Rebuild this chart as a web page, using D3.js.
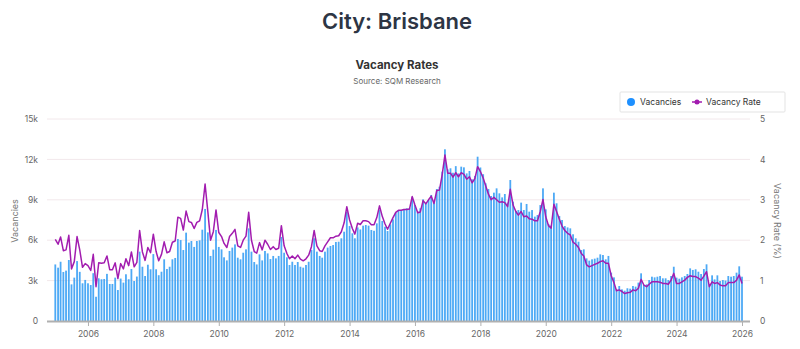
<!DOCTYPE html>
<html>
<head>
<meta charset="utf-8">
<script src="https://cdn.jsdelivr.net/npm/d3@7"></script>
<style>
  html, body { margin: 0; padding: 0; background: #ffffff; }
  svg { display: block; font-family: "Inter", "Open Sans", sans-serif; }
</style>
</head>
<body>
<svg id="chart" width="800" height="349"></svg>
<script>
// Monthly series, Jan 2005 through Jan 2026
const startMonth = new Date(2005, 0, 1);

// Number of vacant rental listings, thousands
const vacanciesK = [
  4.2, 3.96, 4.4, 3.64, 3.74, 4.53, 2.72, 3.22, 4.45, 3.65, 2.8, 3.05,
  2.8, 2.67, 3.55, 1.8, 3.17, 3.1, 3.12, 3.5, 2.75, 2.75, 3.22, 2.3,
  3.15, 2.85, 3.47, 3.1, 3.86, 2.97, 3.3, 5.15, 4.03, 3.34, 4.18, 3.84,
  4.97, 3.84, 3.4, 3.66, 4.58, 3.86, 4.03, 4.58, 4.68, 6.09, 6.01, 5.27,
  6.56, 5.82, 5.94, 5.5, 5.94, 5.99, 6.78, 8.32, 6.58, 4.83, 5.3, 6.76,
  5.5, 5.32, 4.73, 4.5, 5.2, 5.45, 5.69, 4.7, 4.58, 5.07, 5.32, 6.88,
  5.15, 4.38, 4.2, 4.95, 4.5, 5.2, 5.02, 4.6, 4.83, 4.65, 4.83, 6.24,
  5.07, 4.73, 4.16, 4.4, 4.16, 4.38, 4.03, 3.96, 4.16, 4.4, 5.27, 6.14,
  5.15, 4.83, 4.7, 5.15, 5.45, 5.57, 5.64, 5.87, 5.89, 6.14, 6.63, 8.12,
  7.05, 6.51, 6.14, 6.95, 6.8, 7.08, 7.13, 7.08, 6.76, 6.7, 7.25, 8.24,
  7.43, 7.0, 6.68, 7.18, 7.55, 8.04, 8.19, 8.22, 8.32, 8.37, 8.37, 9.18,
  8.61, 8.12, 8.37, 9.03, 8.74, 8.98, 9.36, 8.79, 9.8, 9.97, 11.09, 12.75,
  11.26, 11.34, 11.01, 11.5, 10.96, 11.46, 11.41, 10.96, 11.14, 10.52, 10.77, 12.2,
  11.4, 10.9, 10.22, 9.8, 9.28, 9.53, 9.85, 9.48, 9.18, 9.43, 8.79, 10.47,
  8.86, 8.17, 8.24, 8.79, 8.24, 8.69, 8.12, 8.24, 7.75, 7.87, 8.61, 9.85,
  8.29, 7.2, 7.1, 9.53, 8.74, 7.8, 7.5, 7.05, 6.95, 6.88, 6.44, 6.14,
  5.89, 5.27, 5.32, 4.65, 4.48, 4.58, 4.63, 4.7, 4.95, 4.9, 4.58, 4.83,
  3.59, 3.24, 2.35, 2.6, 2.35, 2.25, 2.43, 2.4, 2.6, 2.55, 2.85, 3.54,
  2.67, 2.72, 3.04, 3.29, 3.24, 3.29, 3.34, 3.17, 3.17, 3.04, 3.34, 4.03,
  3.22, 3.14, 3.24, 3.34, 3.49, 3.91, 3.79, 3.84, 3.66, 3.49, 3.86, 4.21,
  2.72, 3.39, 3.09, 3.39, 2.97, 3.04, 3.0, 3.34, 3.29, 3.34, 3.59, 4.06,
  3.29
];

// Vacancy rate, percent
const vacancyRate = [
  2.02, 1.9, 2.08, 1.74, 1.76, 2.12, 1.29, 1.47, 2.09, 1.76, 1.33, 1.42,
  1.37, 1.25, 1.65, 0.85, 1.44, 1.43, 1.44, 1.61, 1.27, 1.27, 1.44, 1.05,
  1.42, 1.29, 1.54, 1.37, 1.71, 1.34, 1.45, 2.24, 1.71, 1.5, 1.82, 1.69,
  2.15, 1.72, 1.49, 1.65, 1.96, 1.69, 1.72, 1.95, 1.98, 2.57, 2.54, 2.25,
  2.72, 2.46, 2.44, 2.29, 2.44, 2.48, 2.76, 3.39, 2.7, 2.0, 2.21, 2.75,
  2.19, 2.09, 1.92, 1.82, 2.09, 2.17, 2.27, 1.86, 1.82, 2.0, 2.1, 2.69,
  2.0, 1.72, 1.68, 1.94, 1.76, 2.0, 1.9, 1.77, 1.84, 1.77, 1.8, 2.36,
  1.86, 1.67, 1.54, 1.61, 1.54, 1.63, 1.53, 1.49, 1.54, 1.63, 1.84, 2.24,
  1.86, 1.74, 1.72, 1.86, 1.96, 2.06, 2.06, 2.1, 2.11, 2.21, 2.43, 2.83,
  2.5, 2.29, 2.15, 2.42, 2.39, 2.48, 2.48, 2.46, 2.38, 2.38, 2.56, 2.85,
  2.59, 2.4, 2.27, 2.42, 2.56, 2.69, 2.74, 2.74, 2.76, 2.76, 2.77, 3.08,
  2.87, 2.68, 2.7, 2.98, 2.9, 3.0, 3.09, 2.91, 3.23, 3.24, 3.63, 4.11,
  3.66, 3.66, 3.56, 3.67, 3.57, 3.67, 3.63, 3.51, 3.57, 3.42, 3.53, 3.82,
  3.7, 3.54, 3.35, 3.14, 3.0, 3.06, 3.0, 2.94, 2.95, 2.93, 2.83, 3.26,
  2.87, 2.71, 2.62, 2.71, 2.58, 2.6, 2.53, 2.52, 2.48, 2.48, 2.71, 3.01,
  2.58, 2.36, 2.3, 2.89, 2.71, 2.52, 2.35, 2.24, 2.17, 2.13, 1.95, 1.9,
  1.82, 1.67, 1.61, 1.39, 1.34, 1.37, 1.4, 1.43, 1.47, 1.49, 1.43, 1.43,
  1.12, 0.95, 0.75, 0.77, 0.73, 0.68, 0.7, 0.71, 0.77, 0.75, 0.81, 1.03,
  0.89, 0.85, 0.91, 0.97, 0.97, 0.97, 0.96, 0.93, 0.93, 0.91, 1.01, 1.18,
  0.93, 0.93, 0.97, 1.01, 1.08, 1.12, 1.1, 1.1, 1.06, 1.01, 1.11, 1.22,
  0.85, 0.97, 0.93, 0.95, 0.89, 0.87, 0.87, 0.95, 0.95, 0.95, 1.01, 1.14,
  0.93
];

const leftTicks = [0, 3000, 6000, 9000, 12000, 15000];
const leftTickLabels = ["0", "3k", "6k", "9k", "12k", "15k"];
const rightTicks = [0, 1, 2, 3, 4, 5];
const yearTicks = [2006, 2008, 2010, 2012, 2014, 2016, 2018, 2020, 2022, 2024, 2026];

const months = vacanciesK.map((_, i) => d3.timeMonth.offset(startMonth, i));
const rows = months.map((date, i) => ({
  date,
  vacancies: vacanciesK[i] * 1000,
  rate: vacancyRate[i]
}));

const svg = d3.select("#chart");
const plotLeft = 47, plotRight = 750, plotTop = 119, plotBottom = 321;

const x = d3.scaleTime()
  .domain([startMonth, months[months.length - 1]])
  .range([55.3, 742]);
const yLeft = d3.scaleLinear().domain([0, 15000]).range([plotBottom, plotTop]);
const yRight = d3.scaleLinear().domain([0, 5]).range([plotBottom, plotTop]);

// Titles
svg.append("text")
  .attr("x", 397).attr("y", 29)
  .attr("text-anchor", "middle")
  .attr("font-size", 22).attr("font-weight", 600)
  .attr("fill", "#2d3544")
  .text("City: Brisbane");

svg.append("text")
  .attr("x", 397).attr("y", 69)
  .attr("text-anchor", "middle")
  .attr("font-size", 11.5).attr("font-weight", 700)
  .attr("fill", "#333333")
  .text("Vacancy Rates");

svg.append("text")
  .attr("x", 397).attr("y", 84)
  .attr("text-anchor", "middle")
  .attr("font-size", 8).attr("fill", "#666666")
  .text("Source: SQM Research");

// Horizontal grid
svg.append("g")
  .selectAll("line")
  .data(leftTicks.filter(d => d > 0))
  .join("line")
  .attr("x1", plotLeft).attr("x2", plotRight)
  .attr("y1", d => yLeft(d)).attr("y2", d => yLeft(d))
  .attr("stroke", "#f2e8eb").attr("stroke-width", 1);

// Left axis
const leftAxis = d3.axisLeft(yLeft)
  .tickValues(leftTicks)
  .tickSize(0)
  .tickPadding(0)
  .tickFormat((d, i) => leftTickLabels[i]);
const gl = svg.append("g").attr("transform", "translate(38,0)").call(leftAxis);
gl.select(".domain").remove();
gl.selectAll("text").attr("font-size", 8.5).attr("fill", "#666666")
  .attr("font-family", "Inter, sans-serif");

// Right axis
const rightAxis = d3.axisRight(yRight)
  .tickValues(rightTicks)
  .tickSize(0)
  .tickPadding(0)
  .tickFormat(d3.format("d"));
const gr = svg.append("g").attr("transform", "translate(760,0)").call(rightAxis);
gr.select(".domain").remove();
gr.selectAll("text").attr("font-size", 8.5).attr("fill", "#666666")
  .attr("font-family", "Inter, sans-serif");

// Axis titles
svg.append("text")
  .attr("transform", "translate(18,221) rotate(-90)")
  .attr("text-anchor", "middle")
  .attr("font-size", 9).attr("fill", "#777777")
  .text("Vacancies");

svg.append("text")
  .attr("transform", "translate(774,221) rotate(90)")
  .attr("text-anchor", "middle")
  .attr("font-size", 9).attr("fill", "#777777")
  .text("Vacancy Rate (%)");

// Vacancy bars
const barW = 1.8;
svg.append("g")
  .selectAll("rect")
  .data(rows)
  .join("rect")
  .attr("x", d => x(d.date) - barW / 2)
  .attr("y", d => yLeft(d.vacancies))
  .attr("width", barW)
  .attr("height", d => yLeft(0) - yLeft(d.vacancies))
  .attr("fill", "#3aa0f4")
  .attr("fill-opacity", 0.9);

// Vacancy rate line
const line = d3.line()
  .x(d => x(d.date))
  .y(d => yRight(d.rate));
svg.append("path")
  .datum(rows)
  .attr("d", line)
  .attr("fill", "none")
  .attr("stroke", "#a21caf")
  .attr("stroke-width", 1.5)
  .attr("stroke-linejoin", "round");

// Bottom axis
svg.append("line")
  .attr("x1", plotLeft).attr("x2", plotRight)
  .attr("y1", plotBottom + 0.5).attr("y2", plotBottom + 0.5)
  .attr("stroke", "#b0b0b0").attr("stroke-width", 2);

const bottomAxis = d3.axisBottom(x)
  .tickValues(yearTicks.map(y => new Date(y, 0, 1)))
  .tickSize(4)
  .tickPadding(5)
  .tickFormat(d3.timeFormat("%Y"));
const gb = svg.append("g").attr("transform", `translate(0,${plotBottom + 1})`).call(bottomAxis);
gb.select(".domain").remove();
gb.selectAll(".tick line").attr("stroke", "#b0b0b0");
gb.selectAll("text").attr("font-size", 8.5).attr("fill", "#666666")
  .attr("font-family", "Inter, sans-serif");

// Legend
const lg = svg.append("g").attr("transform", "translate(620,92)");
lg.append("rect")
  .attr("x", 0).attr("y", 0).attr("width", 165).attr("height", 20)
  .attr("fill", "#ffffff").attr("stroke", "#e3e3e3").attr("rx", 1);
lg.append("circle")
  .attr("cx", 11).attr("cy", 10).attr("r", 4)
  .attr("fill", "#1e90ff");
lg.append("text")
  .attr("x", 20).attr("y", 13)
  .attr("font-size", 8.5).attr("fill", "#333333")
  .text("Vacancies");
lg.append("line")
  .attr("x1", 72).attr("x2", 82).attr("y1", 10).attr("y2", 10)
  .attr("stroke", "#a21caf").attr("stroke-width", 1.5);
lg.append("circle")
  .attr("cx", 77).attr("cy", 10).attr("r", 2.5)
  .attr("fill", "#a21caf");
lg.append("text")
  .attr("x", 86).attr("y", 13)
  .attr("font-size", 8.5).attr("fill", "#333333")
  .text("Vacancy Rate");
</script>
</body>
</html>
